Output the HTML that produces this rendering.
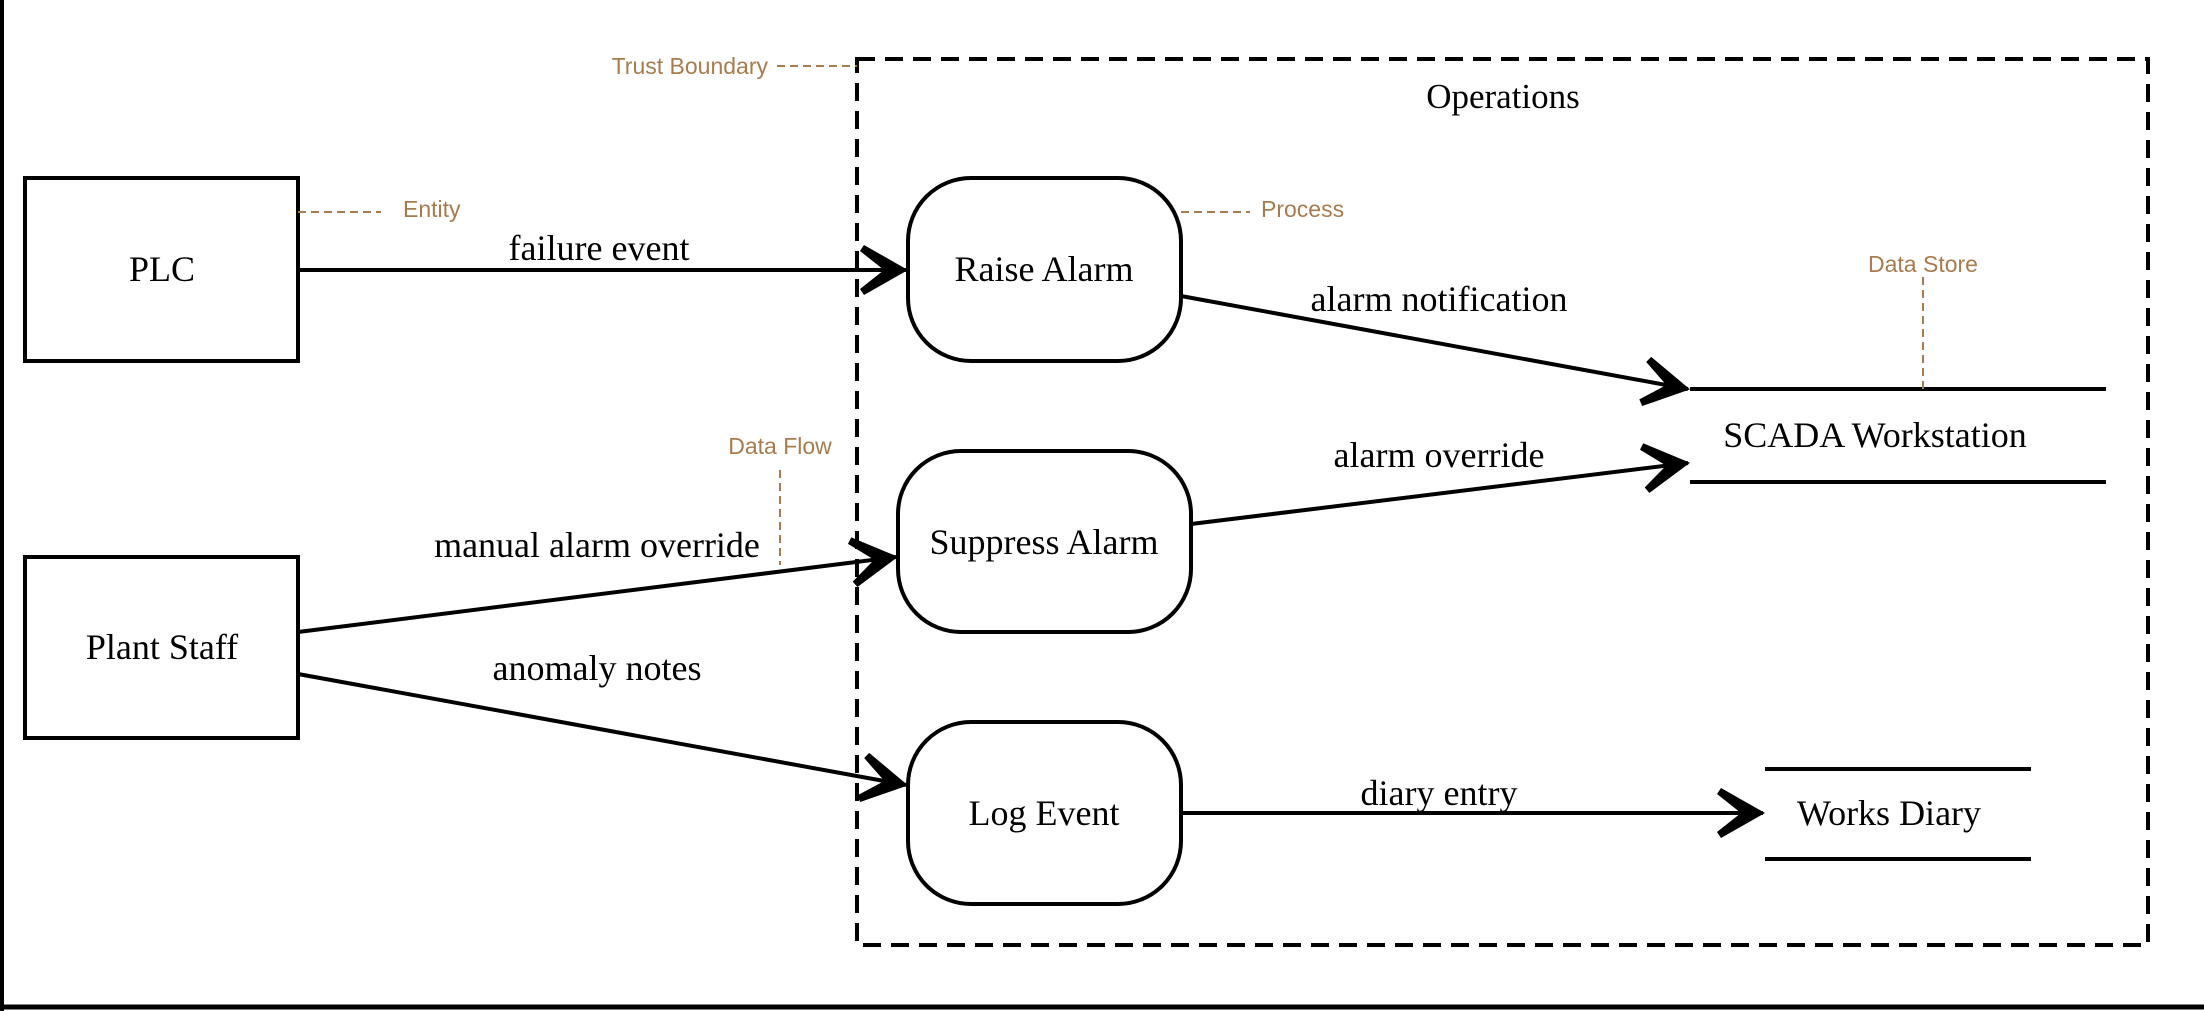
<!DOCTYPE html>
<html><head><meta charset="utf-8"><style>
html,body{margin:0;padding:0;background:#fff;}
svg{display:block;}
</style></head><body>
<svg width="2204" height="1011" viewBox="0 0 2204 1011" xmlns="http://www.w3.org/2000/svg">
<rect x="0" y="0" width="2204" height="1011" fill="#fff"/>
<line x1="2" y1="0" x2="2" y2="1011" stroke="#000" stroke-width="4"/>
<line x1="0" y1="1007" x2="2204" y2="1007" stroke="#000" stroke-width="5"/>

<rect x="857" y="59" width="1291" height="886" fill="none" stroke="#000" stroke-width="4" stroke-dasharray="18 10"/>
<text x="1503" y="108" font-family="Liberation Serif, serif" font-size="35" text-anchor="middle">Operations</text>

<g fill="none" stroke="#000" stroke-width="4">
<rect x="25" y="178" width="273" height="183"/>
<rect x="25" y="557" width="273" height="181"/>
<rect x="908" y="178" width="273" height="183" rx="63"/>
<rect x="898" y="451" width="293" height="181" rx="63"/>
<rect x="908" y="722" width="273" height="182" rx="63"/>
<line x1="1690" y1="389" x2="2106" y2="389"/>
<line x1="1690" y1="482" x2="2106" y2="482"/>
<line x1="1765" y1="769" x2="2031" y2="769"/>
<line x1="1765" y1="859" x2="2031" y2="859"/>
</g>

<g font-family="Liberation Serif, serif" font-size="36" text-anchor="middle">
<text x="162" y="281">PLC</text>
<text x="162" y="659">Plant Staff</text>
<text x="1044" y="281">Raise Alarm</text>
<text x="1044" y="554">Suppress Alarm</text>
<text x="1044" y="825">Log Event</text>
<text x="1875" y="447">SCADA Workstation</text>
<text x="1889" y="825">Works Diary</text>
<text x="599" y="260">failure event</text>
<text x="1439" y="311">alarm notification</text>
<text x="1439" y="467">alarm override</text>
<text x="597" y="557">manual alarm override</text>
<text x="597" y="680">anomaly notes</text>
<text x="1439" y="805">diary entry</text>
</g>

<defs>
<marker id="a" markerWidth="100" markerHeight="100" refX="0" refY="0" orient="auto" markerUnits="userSpaceOnUse" overflow="visible">
<path d="M2,0 L-42,-25 L-46,-19 L-22,0 L-46,19 L-42,25 Z" fill="#000" stroke="none"/>
</marker>
</defs>
<g stroke="#000" stroke-width="4" fill="none">
<line x1="298" y1="270" x2="906" y2="270" marker-end="url(#a)"/>
<line x1="1181" y1="296" x2="1688" y2="389" marker-end="url(#a)"/>
<line x1="1191" y1="524" x2="1688" y2="463" marker-end="url(#a)"/>
<line x1="298" y1="632" x2="896" y2="557" marker-end="url(#a)"/>
<line x1="298" y1="674" x2="906" y2="785" marker-end="url(#a)"/>
<line x1="1181" y1="813" x2="1763" y2="813" marker-end="url(#a)"/>
</g>

<g stroke="#a87c4f" stroke-width="2" stroke-dasharray="8 5" fill="none">
<line x1="777" y1="66" x2="857" y2="66"/>
<line x1="298" y1="212" x2="381" y2="212"/>
<line x1="1181" y1="212" x2="1250" y2="212"/>
<line x1="1923" y1="277" x2="1923" y2="389"/>
<line x1="780" y1="470" x2="780" y2="565"/>
</g>
<g font-family="Liberation Sans, sans-serif" font-size="23" fill="#a87c4f">
<text x="768" y="74" text-anchor="end">Trust Boundary</text>
<text x="403" y="217">Entity</text>
<text x="1261" y="217">Process</text>
<text x="1923" y="272" text-anchor="middle">Data Store</text>
<text x="780" y="454" text-anchor="middle">Data Flow</text>
</g>
</svg>
</body></html>
